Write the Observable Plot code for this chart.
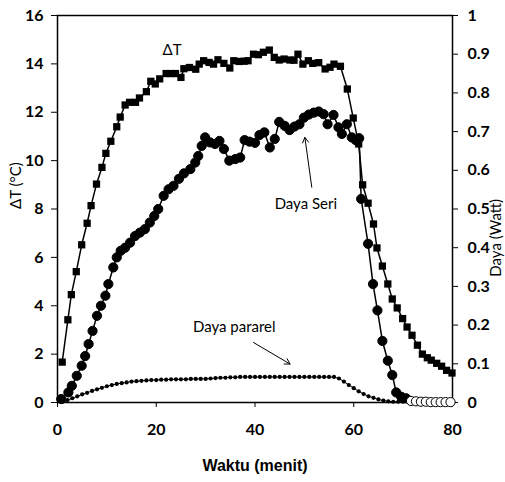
<!DOCTYPE html>
<html><head><meta charset="utf-8">
<script src="https://cdn.jsdelivr.net/npm/d3@7"></script>
<script src="https://cdn.jsdelivr.net/npm/@observablehq/plot@0.6"></script>
<style>body{margin:0;background:#fff;} svg{display:block;}</style>
</head><body><div id="chart"></div>
<script>
// ΔT (°C) — squares
const dtTime  = [0.95,2.1,2.8,3.8,4.9,6.0,6.8,7.9,9.0,9.8,10.8,12.0,12.7,13.7,14.6,15.8,16.6,18.0,18.9,19.8,20.7,22.0,22.9,23.9,25.0,25.6,26.7,28.0,28.7,29.6,30.7,31.6,32.5,33.7,34.9,35.7,36.8,37.8,38.6,39.7,40.7,41.7,42.9,43.9,44.9,45.9,47.1,47.9,48.7,49.7,50.8,51.7,52.9,54.2,55.2,56.0,57.3,58.7,59.9,61.0,61.8,62.9,64.0,64.7,65.8,66.9,67.8,68.8,69.9,70.8,71.8,72.9,73.9,74.9,75.7,76.8,77.8,78.8,79.9];
const dtValue = [1.67,3.42,4.46,5.41,6.52,7.41,8.14,9.03,9.72,10.3,10.8,11.4,11.8,12.3,12.41,12.41,12.59,12.85,13.28,13.17,13.38,13.6,13.6,13.6,13.44,13.8,13.85,13.78,13.99,14.13,14.06,13.99,14.17,14.02,13.83,14.13,14.1,14.11,14.13,14.4,14.38,14.48,14.57,14.27,14.16,14.2,14.16,14.15,14.4,13.99,14.13,14.02,14.05,13.79,13.86,13.99,13.9,12.96,11.76,10.69,9.0,8.24,7.38,6.39,5.64,4.9,4.28,3.91,3.47,3.12,2.78,2.37,2.0,1.85,1.75,1.62,1.5,1.33,1.22];

// Daya Seri (Watt) — circles
const seriTime  = [0.75,2.2,2.9,3.9,4.9,5.6,6.3,7.1,8.0,8.8,9.7,10.3,11.3,12.0,12.8,13.7,14.7,15.7,16.7,17.7,18.7,19.6,20.4,21.5,22.5,23.5,24.6,25.6,26.9,27.9,28.5,29.2,29.9,30.9,31.9,32.8,33.7,34.8,36.0,37.0,37.9,38.9,40.0,40.9,41.9,43.0,44.0,44.9,46.0,47.0,48.0,49.0,49.9,50.9,51.9,52.9,53.9,54.7,55.9,56.9,57.6,58.6,59.6,60.4,61.1,61.5,62.9,63.9,64.8,65.8,66.9,67.8,68.6,69.6,70.6,71.6,72.6,73.6,74.6,75.6,76.6,77.6,78.6,79.6];
const seriDaya  = [0.009,0.026,0.043,0.069,0.095,0.12,0.151,0.185,0.224,0.25,0.276,0.306,0.349,0.375,0.392,0.4,0.413,0.43,0.439,0.448,0.465,0.482,0.5,0.534,0.551,0.56,0.578,0.592,0.603,0.62,0.637,0.663,0.685,0.672,0.668,0.676,0.655,0.625,0.629,0.633,0.678,0.674,0.671,0.691,0.698,0.659,0.681,0.725,0.715,0.704,0.713,0.719,0.736,0.744,0.749,0.752,0.745,0.719,0.743,0.711,0.694,0.719,0.685,0.678,0.683,0.526,0.41,0.306,0.238,0.159,0.108,0.071,0.026,0.015,0.011,0.004,0.003,0.002,0.002,0.001,0.001,0.001,0.001,0.001];

// Daya pararel (Watt) — small dots
const pararelTime = d3.range(1, 81);
const pararelDaya = [0.002,0.006,0.011,0.016,0.021,0.025,0.030,0.034,0.038,0.042,0.045,0.048,0.050,0.052,0.054,0.055,0.056,0.057,0.058,0.058,0.059,0.059,0.060,0.060,0.060,0.060,0.061,0.061,0.061,0.061,0.062,0.063,0.064,0.064,0.065,0.065,0.066,0.066,0.066,0.066,0.066,0.066,0.066,0.066,0.066,0.066,0.066,0.066,0.066,0.066,0.066,0.066,0.066,0.066,0.066,0.066,0.062,0.054,0.045,0.037,0.029,0.022,0.016,0.012,0.008,0.005,0.003,0.002,0.002,0.002,0.002,0.002,0.002,0.002,0.002,0.002,0.002,0.002,0.002,0.002];

// Axes
const xTicks = [0, 20, 40, 60, 80];
const leftTicks = [0, 2, 4, 6, 8, 10, 12, 14, 16];
const rightTicks = [0, 0.1, 0.2, 0.3, 0.4, 0.5, 0.6, 0.7, 0.8, 0.9, 1];
const rightTickLabels = ["0","0.1","0.2","0.3","0.4","0.5","0.6","0.7","0.8","0.9","1"];
const wattToDegree = 16; // right axis 0–1 W spans the left axis 0–16 °C

// Annotations (data coordinates: minutes, °C)
const labels = [
  {x: 23.2, y: 14.55, text: "ΔT"},
  {x: 50.3, y: 8.2, text: "Daya Seri"},
  {x: 35.8, y: 3.1, text: "Daya pararel"}
];
const arrows = [
  {x1: 51.5, y1: 8.9, x2: 50.1, y2: 10.96},
  {x1: 39.7, y1: 2.48, x2: 47.1, y2: 1.59}
];

const dt = dtTime.map((t, i) => ({t, v: dtValue[i]}));
const seri = seriTime.map((t, i) => ({t, v: seriDaya[i] * wattToDegree, w: seriDaya[i]}));
const pararel = pararelTime.map((t, i) => ({t, v: pararelDaya[i] * wattToDegree}));
const rightLabelOf = new Map(rightTicks.map((v, i) => [v * wattToDegree, rightTickLabels[i]]));

const chart = Plot.plot({
  width: 505, height: 482,
  marginLeft: 57, marginRight: 53, marginTop: 15, marginBottom: 80,
  x: {domain: [0, 80]},
  y: {domain: [0, 16]},
  style: {fontFamily: "Lato, 'DejaVu Sans', sans-serif", fontSize: "16px", fontWeight: "bold", color: "black", background: "white"},
  marks: [
    Plot.frame({stroke: "black", strokeWidth: 1.5}),
    Plot.axisX(xTicks, {tickSize: 5, tickPadding: 16, label: null}),
    Plot.axisY(leftTicks, {anchor: "left", tickSize: 6, tickPadding: 8, label: null}),
    Plot.axisY(rightTicks.map(v => v * wattToDegree), {anchor: "right", tickSize: 5, tickPadding: 10, label: null, tickFormat: d => rightLabelOf.get(d)}),
    Plot.text(["ΔT (°C)"], {frameAnchor: "left", dx: -41, rotate: -90, text: d => d, fontSize: 15, fontWeight: "normal"}),
    Plot.text(["Daya (Watt)"], {frameAnchor: "right", dx: 44, dy: -10, rotate: -90, text: d => d, fontSize: 15, fontWeight: "normal"}),
    Plot.text(["Waktu (menit)"], {frameAnchor: "bottom", dy: 68, text: d => d, fontSize: 16, fontFamily: "'Liberation Sans', Arial, sans-serif", fontWeight: "bold"}),
    Plot.line(pararel, {x: "t", y: "v", stroke: "black", strokeWidth: 1}),
    Plot.dot(pararel, {x: "t", y: "v", r: 2.1, fill: "black"}),
    Plot.line(dt, {x: "t", y: "v", stroke: "black", strokeWidth: 1.5}),
    Plot.dot(dt, {x: "t", y: "v", symbol: "square", r: 4.1, fill: "black"}),
    Plot.line(seri, {x: "t", y: "v", stroke: "black", strokeWidth: 1.5}),
    Plot.dot(seri, {x: "t", y: "v", r: 4.6, fill: d => d.w < 0.005 ? "white" : "black", stroke: "black", strokeWidth: 1}),
    Plot.text(labels, {x: "x", y: "y", text: "text", fontSize: 15, fontWeight: "normal"}),
    Plot.arrow(arrows, {x1: "x1", y1: "y1", x2: "x2", y2: "y2", stroke: "black", strokeWidth: 1, headLength: 9, bend: 0})
  ]
});
document.getElementById("chart").appendChild(chart);
</script>
</body></html>
